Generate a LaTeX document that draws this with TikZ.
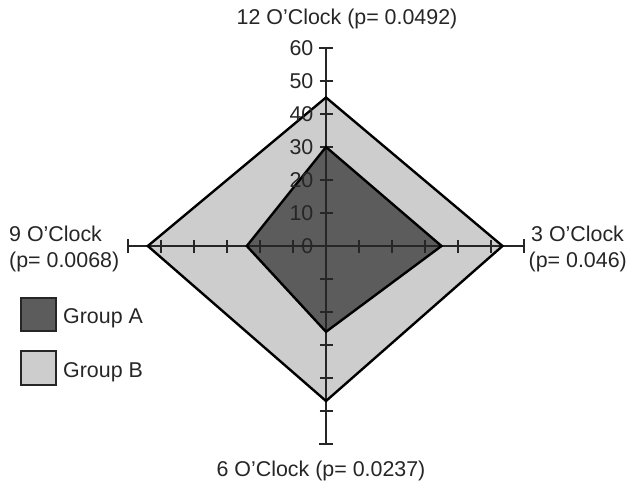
\documentclass[tikz,border=0pt]{standalone}
\usepackage{fontspec}
\setmainfont{Liberation Sans}
\definecolor{grpA}{RGB}{92,92,92}
\definecolor{grpB}{RGB}{205,205,205}
\begin{document}
\begin{tikzpicture}[x=1bp,y=-1bp,
  txt/.style={font=\fontsize{21.4bp}{25bp}\selectfont, inner sep=0pt, text=black!85},
  axisline/.style={draw=black!85, line width=1.4bp},
  outline/.style={draw=black, line width=2.4bp, line join=miter},
  legbox/.style={draw=black!85, line width=1.6bp}]
\useasboundingbox (0,0) rectangle (628,484);
\coordinate (C) at (326,246);
% group B polygon
\coordinate (B1) at (326,97.5);
\coordinate (B2) at (502.5,246);
\coordinate (B3) at (326,401);
\coordinate (B4) at (147.8,246);
% group A polygon
\coordinate (A1) at (326,147);
\coordinate (A2) at (441.5,246);
\coordinate (A3) at (326,331.8);
\coordinate (A4) at (246.8,246);
\fill[grpB] (B1) -- (B2) -- (B3) -- (B4) -- cycle;
\fill[grpA] (A1) -- (A2) -- (A3) -- (A4) -- cycle;
% axes
\coordinate (Vt) at (326,48);
\coordinate (Vb) at (326,444);
\coordinate (Hl) at (128,246);
\coordinate (Hr) at (524,246);
\draw[axisline] (Vt) -- (Vb);
\draw[axisline] (Hl) -- (Hr);
\foreach \k in {1,...,5}{
  \draw[axisline] (319.5,246-33*\k) -- (332.5,246-33*\k);
  \draw[axisline] (319.5,246+33*\k) -- (332.5,246+33*\k);
  \draw[axisline] (326-33*\k,240) -- (326-33*\k,252.5);
  \draw[axisline] (326+33*\k,240) -- (326+33*\k,252.5);
}
\draw[axisline] (319,48) -- (333,48);
\draw[axisline] (319,444) -- (333,444);
\draw[axisline] (128,239) -- (128,253);
\draw[axisline] (524,239) -- (524,253);
% outlines
\draw[outline] (B1) -- (B2) -- (B3) -- (B4) -- cycle;
\draw[outline] (A1) -- (A2) -- (A3) -- (A4) -- cycle;
% axis labels
\foreach \k in {0,...,6}{
  \pgfmathtruncatemacro{\v}{10*\k}
  \node[txt, anchor=base east] (lab\k) at (313.5,253.5-33*\k) {\v};
}
% direction labels
\node[txt, anchor=base] (t12) at (347,25) {12 O’Clock (p= 0.0492)};
\node[txt, anchor=base] (t6) at (321,476) {6 O’Clock (p= 0.0237)};
\node[txt, anchor=base west] (t9a) at (9,242) {9 O’Clock};
\node[txt, anchor=base west] (t9b) at (9,267) {(p= 0.0068)};
\node[txt, anchor=base west] (t3a) at (531,242) {3 O’Clock};
\node[txt, anchor=base east] (t3b) at (627,267) {(p= 0.046)};
% legend
\filldraw[legbox, fill=grpA] (21,298) rectangle (56,331);
\filldraw[legbox, fill=grpB] (21,351) rectangle (56,385);
\node[txt, anchor=base west] (legA) at (63,323) {Group A};
\node[txt, anchor=base west] (legB) at (63,377) {Group B};
\end{tikzpicture}
\end{document}
